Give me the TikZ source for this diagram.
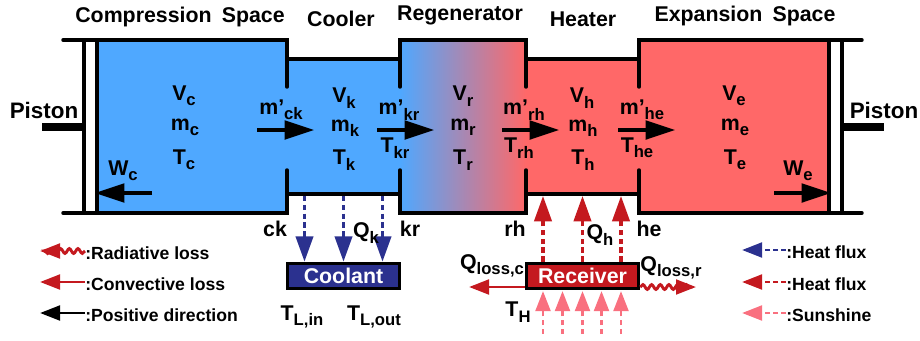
\documentclass[tikz,border=0pt]{standalone}
\usepackage{fontspec}
\setmainfont{Liberation Sans}
\usetikzlibrary{arrows.meta,decorations.pathmorphing}
\definecolor{coldblue}{HTML}{4FA8FF}
\definecolor{hotred}{HTML}{FF6868}
\definecolor{fluxblue}{HTML}{2B318F}
\definecolor{fluxred}{HTML}{C4191F}
\definecolor{sunpink}{HTML}{F9707F}
\newcommand{\dn}[1]{\raisebox{-0.25em}{\fontsize{12.5}{13}\selectfont #1}}
\tikzset{
  lab/.style={font=\fontsize{16}{18}\bfseries\selectfont, inner sep=0pt, text=black, align=center},
  leg/.style={font=\fontsize{13.2}{15}\bfseries\selectfont, inner sep=0pt, anchor=west},
  wall/.style={line width=2.6pt, line cap=round},
  bigarrow/.style={line width=2.3pt, -{Triangle[length=22pt,width=14pt]}, shorten >=0pt},
  flux/.style={line width=2.3pt, dash pattern=on 4pt off 2.6pt, -{Triangle[length=19pt,width=13pt]}},
  sunflux/.style={line width=2.2pt, dash pattern=on 4pt off 2.6pt, color=sunpink, -{Triangle[length=15pt,width=11pt]}},
  legarrow/.style={line width=2.2pt, -{Triangle[length=15pt,width=11pt]}},
  legdash/.style={line width=2.2pt, dash pattern=on 4pt off 2pt, -{Triangle[length=15pt,width=11pt]}},
  lossarrow/.style={line width=2.2pt, color=fluxred, -{Triangle[length=15pt,width=11pt]}},
  wavy/.style={decorate, decoration={snake, amplitude=1.8pt, segment length=6.5pt, post length=3pt}},
  fluid/.style={draw=black, line width=2.6pt, minimum height=19pt, inner sep=0pt, text=white, font=\fontsize{16}{18}\bfseries\selectfont, minimum width=84pt},
  rod/.style={line width=6.5pt}
}
\begin{document}
\begin{tikzpicture}[x=0.75pt,y=-0.75pt]
\useasboundingbox (0,0) rectangle (920,340);
% fills
\fill[coldblue] (98,40) rectangle (287,213);
\fill[coldblue] (287,59) rectangle (400,194);
\shade[left color=coldblue,right color=hotred] (400,40) rectangle (526,213);
\fill[hotred] (526,59) rectangle (639,194);
\fill[hotred] (639,40) rectangle (828,213);
% cylinder lines and walls
\draw[wall] (63,40) -- (287,40) -- (287,87);
\draw[wall] (287,170) -- (287,213) -- (63,213);
\draw[wall] (287,59) -- (400,59);
\draw[wall] (287,194) -- (400,194);
\draw[wall] (400,87) -- (400,40) -- (526,40) -- (526,87);
\draw[wall] (400,170) -- (400,213) -- (526,213) -- (526,170);
\draw[wall] (526,59) -- (639,59);
\draw[wall] (526,194) -- (639,194);
\draw[wall] (639,87) -- (639,40) -- (862,40);
\draw[wall] (639,170) -- (639,213) -- (862,213);
% pistons
\node[draw=black,fill=white,line width=2.6pt,minimum width=10pt,minimum height=130pt,inner sep=0pt] (pl) at (90.5,126.5) {};
\node[draw=black,fill=white,line width=2.6pt,minimum width=10pt,minimum height=130pt,inner sep=0pt] (pr) at (835.5,126.5) {};
\coordinate (rl) at (42,127);
\coordinate (rr) at (884,127);
\draw[rod] (rl) -- (pl.west |- rl);
\draw[rod] (pr.east |- rr) -- (rr);
% headers
\node[lab] (h1) at (180,17) {Compression\hspace{0.2em} Space};
\node[lab] (h2) at (341,19) {Cooler};
\node[lab] (h3) at (460,15) {Regenerator};
\node[lab] (h4) at (583,19) {Heater};
\node[lab] (h5) at (745,16) {Expansion\hspace{0.2em} Space};
\node[lab,font=\fontsize{16.8}{18}\bfseries\selectfont] (p1) at (44,110) {Piston};
\node[lab,font=\fontsize{16.8}{18}\bfseries\selectfont] (p2) at (884,110) {Piston};
% state labels
\node[lab] (vc) at (184,96) {V\dn{c}};
\node[lab] (mc) at (185,127) {m\dn{c}};
\node[lab] (tc) at (184,160) {T\dn{c}};
\node[lab] (vk) at (344,98) {V\dn{k}};
\node[lab] (mk) at (345,128) {m\dn{k}};
\node[lab] (tk) at (344,160) {T\dn{k}};
\node[lab] (vr) at (463,96) {V\dn{r}};
\node[lab] (mr) at (463,127) {m\dn{r}};
\node[lab] (tr) at (463,160) {T\dn{r}};
\node[lab] (vh) at (582,98) {V\dn{h}};
\node[lab] (mh) at (583,128) {m\dn{h}};
\node[lab] (th) at (583,160) {T\dn{h}};
\node[lab] (ve) at (734,96) {V\dn{e}};
\node[lab] (me) at (735,127) {m\dn{e}};
\node[lab] (te) at (735,160) {T\dn{e}};
% flow labels
\node[lab] (fck) at (281,110) {m'\dn{ck}};
\node[lab] (fkr) at (399,110) {m'\dn{kr}};
\node[lab] (frh) at (524,110) {m'\dn{rh}};
\node[lab] (fhe) at (642,110) {m'\dn{he}};
\node[lab] (tkr) at (395,148) {T\dn{kr}};
\node[lab] (trh) at (519,148) {T\dn{rh}};
\node[lab] (the) at (637,148) {T\dn{he}};
\node[lab] (wc) at (123,171) {W\dn{c}};
\node[lab] (we) at (798,171) {W\dn{e}};
% flow arrows
\coordinate (a1) at (257,130); \coordinate (a2) at (314,130);
\coordinate (b1) at (377,130); \coordinate (b2) at (434,130);
\coordinate (c1) at (502,130); \coordinate (c2) at (559,130);
\coordinate (d1) at (618,130); \coordinate (d2) at (675,130);
\coordinate (w1) at (152,193); \coordinate (w2) at (95,193);
\coordinate (x1) at (774,193); \coordinate (x2) at (831,193);
\foreach \s/\e in {a1/a2,b1/b2,c1/c2,d1/d2,w1/w2,x1/x2} \draw[bigarrow] (\s) -- (\e);
% station labels
\node[lab] (ck) at (275,229) {ck};
\node[lab] (kr) at (410,229) {kr};
\node[lab] (rh) at (515,229) {rh};
\node[lab] (he) at (649,229) {he};
% coolant and receiver
\node[fluid,fill=fluxblue] (coolant) at (343.5,276) {Coolant};
\node[fluid,fill=fluxred] (receiver) at (582.5,276) {Receiver};
% cooler flux
\coordinate (k1) at (304.5,196); \coordinate (k2) at (343.5,196); \coordinate (k3) at (382.5,196);
\foreach \c in {k1,k2,k3} \draw[flux,color=fluxblue] (\c) -- (\c |- coolant.north);
\node[lab] (qk) at (366,233) {Q\dn{k}};
% heater flux
\coordinate (h1e) at (543,196); \coordinate (h2e) at (582.5,196); \coordinate (h3e) at (621,196);
\foreach \c in {h1e,h2e,h3e} \draw[flux,color=fluxred] (\c |- receiver.north) -- (\c);
\node[lab] (qh) at (600,235) {Q\dn{h}};
% sunshine
\foreach \i/\px in {1/543,2/562.5,3/582.5,4/601.5,5/621}{
  \coordinate (sb\i) at (\px,334);
  \coordinate (st\i) at (\px,291);
  \draw[sunflux] (sb\i) -- (st\i);
}
\node[lab] (thot) at (518,312) {T\dn{H}};
% losses
\coordinate (lc) at (469,287);
\coordinate (lr) at (696,287);
\draw[lossarrow] (receiver.west |- lc) -- (lc);
\draw[lossarrow,wavy] (receiver.east |- lr) -- (lr);
\node[lab] (qlc) at (492,266) {Q\dn{loss,c}};
\node[lab] (qlr) at (671,268) {Q\dn{loss,r}};
% coolant temperatures
\node[lab] (tin) at (302,317) {T\dn{L,in}};
\node[lab] (tout) at (374,317) {T\dn{L,out}};
% left legend
\node[leg] (l1) at (85,253) {:Radiative loss};
\node[leg] (l2) at (85,284) {:Convective loss};
\node[leg] (l3) at (85,315) {:Positive direction};
\coordinate (le1) at (40,251); \coordinate (le2) at (40,282); \coordinate (le3) at (40,313);
\draw[lossarrow,wavy] (l1.west |- le1) -- (le1);
\draw[lossarrow] (l2.west |- le2) -- (le2);
\draw[legarrow,black] (l3.west |- le3) -- (le3);
% right legend
\node[leg] (r1) at (786,252) {:Heat flux};
\node[leg] (r2) at (786,284) {:Heat flux};
\node[leg] (r3) at (786,315) {:Sunshine};
\coordinate (re1) at (742,250); \coordinate (re2) at (742,282); \coordinate (re3) at (742,313);
\draw[legdash,fluxblue] (r1.west |- re1) -- (re1);
\draw[legdash,fluxred] (r2.west |- re2) -- (re2);
\draw[legdash,sunpink] (r3.west |- re3) -- (re3);
\end{tikzpicture}
\end{document}
